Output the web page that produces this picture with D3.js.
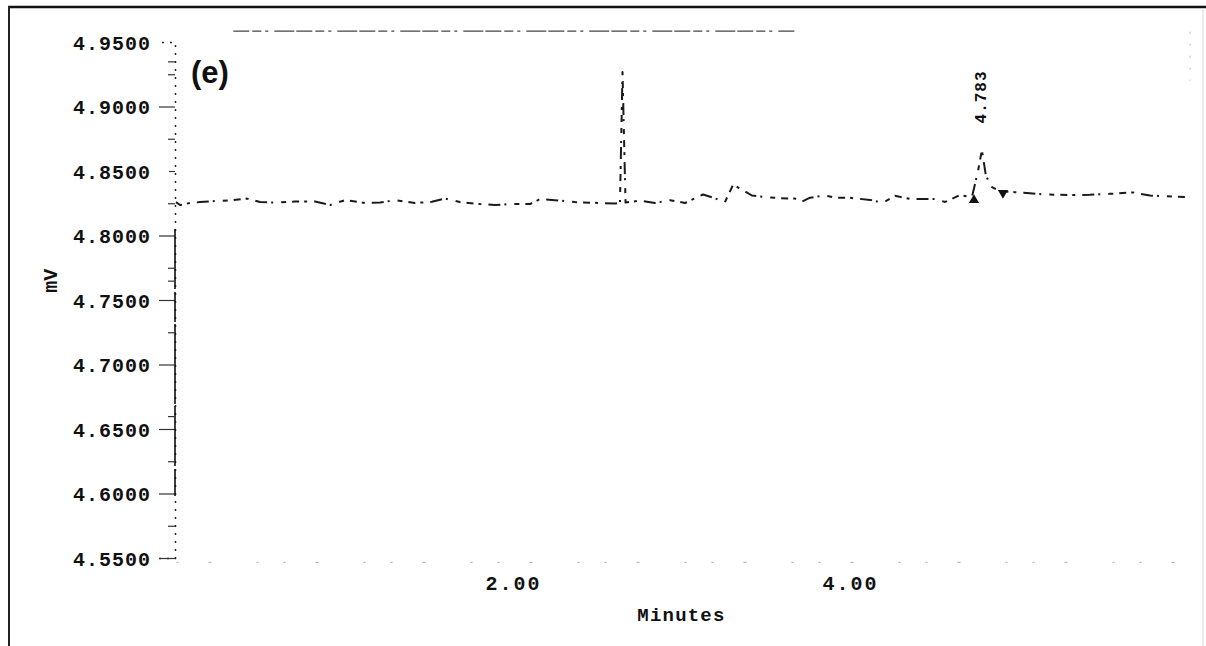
<!DOCTYPE html>
<html>
<head>
<meta charset="utf-8">
<script src="https://cdn.jsdelivr.net/npm/d3@7"></script>
<style>
  html, body { margin: 0; padding: 0; background: #fff; }
  svg { display: block; }
  .mono { font-family: "Liberation Mono", "DejaVu Sans Mono", monospace; font-weight: bold; fill: #111; }
</style>
</head>
<body>
<svg id="chart" width="1206" height="646"></svg>
<script>
// Detector trace (time in minutes, signal in mV)
const times = [0.000, 0.024, 0.083, 0.142, 0.231, 0.320, 0.421, 0.499, 0.588, 0.706,
  0.825, 0.914, 1.003, 1.122, 1.211, 1.300, 1.418, 1.519, 1.596, 1.685,
  1.804, 1.893, 1.982, 2.101, 2.160, 2.249, 2.368, 2.516, 2.605, 2.635,
  2.650, 2.668, 2.754, 2.843, 2.932, 3.021, 3.128, 3.199, 3.258, 3.306,
  3.359, 3.418, 3.496, 3.573, 3.674, 3.715, 3.763, 3.852, 3.911, 4.000,
  4.119, 4.196, 4.267, 4.356, 4.504, 4.564, 4.653, 4.724, 4.760, 4.783,
  4.807, 4.843, 4.890, 4.979, 5.068, 5.157, 5.306, 5.424, 5.543, 5.680,
  5.780, 5.929, 6.018];
const values = [4.8259, 4.8236, 4.8252, 4.8259, 4.8267, 4.8271, 4.8286, 4.8259, 4.8255, 4.8263,
  4.8263, 4.8236, 4.8274, 4.8252, 4.8255, 4.8274, 4.8252, 4.8261, 4.8286, 4.8259,
  4.8244, 4.8236, 4.8244, 4.8244, 4.8282, 4.8274, 4.8259, 4.8252, 4.8248, 4.8252,
  4.9267, 4.8255, 4.8271, 4.8252, 4.8274, 4.8252, 4.8318, 4.8288, 4.8259, 4.8392,
  4.8357, 4.8310, 4.8298, 4.8290, 4.8286, 4.8262, 4.8293, 4.8311, 4.8293, 4.8292,
  4.8276, 4.8254, 4.8308, 4.8284, 4.8283, 4.8260, 4.8313, 4.8298, 4.8500, 4.8663,
  4.8462, 4.8375, 4.8344, 4.8336, 4.8327, 4.8318, 4.8313, 4.8316, 4.8323, 4.8334,
  4.8310, 4.8302, 4.8298];

// Axis ticks
const yTicks = [4.55, 4.60, 4.65, 4.70, 4.75, 4.80, 4.85, 4.90, 4.95];
const yMinorTicks = [4.575, 4.625, 4.66, 4.725, 4.765, 4.775, 4.825, 4.875, 4.925, 4.935];
const xTicks = [2, 4];

// Integrated peak: retention time and baseline start/end markers
const peakTimes = [4.783];
const peakLabels = ["4.783"];
const peakTopValues = [4.8663];
const markerTimes = [4.736, 4.908];
const markerValues = [4.8274, 4.8330];
const markerKinds = ["up", "down"];

const svg = d3.select("#chart");

const x = d3.scaleLinear().domain([0, 6.03]).range([176, 1192]);
const y = d3.scaleLinear().domain([4.55, 4.95]).range([558, 42]);

// Outer frame (top and left heavy, right faint)
svg.append("line").attr("x1", 8).attr("x2", 1206).attr("y1", 7).attr("y2", 7)
  .attr("stroke", "#111").attr("stroke-width", 2.5);
svg.append("line").attr("x1", 9).attr("x2", 9).attr("y1", 6).attr("y2", 646)
  .attr("stroke", "#222").attr("stroke-width", 2);
svg.append("line").attr("x1", 1203).attr("x2", 1203).attr("y1", 8).attr("y2", 646)
  .attr("stroke", "#d8d8d8").attr("stroke-width", 1);

// Faint plot frame: top and right edges
svg.append("line").attr("x1", x(0.34)).attr("x2", x(3.67)).attr("y1", y(4.9585)).attr("y2", y(4.9585))
  .attr("stroke", "#444").attr("stroke-width", 1.2).attr("stroke-dasharray", "16,3,9,4,3,6,20,2");
svg.append("line").attr("x1", x(6.03) - 2).attr("x2", x(6.03) - 2).attr("y1", y(4.958)).attr("y2", y(4.92))
  .attr("stroke", "#bbb").attr("stroke-width", 1).attr("stroke-dasharray", "2,10");

// Y axis
const yAxis = svg.append("g").attr("transform", `translate(${x(0) - 1},0)`)
  .call(d3.axisLeft(y).tickValues(yTicks).tickFormat(d3.format(".4f")).tickSize(16).tickPadding(8));
yAxis.select(".domain").attr("stroke", "#222").attr("stroke-width", 1.5).attr("stroke-dasharray", "2,6");
yAxis.selectAll(".tick line").attr("stroke", "#333").attr("stroke-width", 1.2)
  .attr("stroke-dasharray", d => d === 4.95 ? "0,40" : (d === 4.85 ? "6,40" : null));
yAxis.selectAll(".tick text").attr("class", "mono").attr("font-size", 20)
  .attr("letter-spacing", 1).attr("dy", "0.36em");
// solid stretch of the axis line
svg.append("line").attr("x1", x(0) - 1).attr("x2", x(0) - 1).attr("y1", y(4.805)).attr("y2", y(4.598))
  .attr("stroke", "#111").attr("stroke-width", 1.6).attr("stroke-dasharray", "60,3,30,2,80,2");

const yMinor = svg.append("g").attr("transform", `translate(${x(0) - 1},0)`)
  .call(d3.axisLeft(y).tickValues(yMinorTicks).tickFormat("").tickSize(7));
yMinor.select(".domain").remove();
yMinor.selectAll(".tick line").attr("stroke", "#333").attr("stroke-width", 1.2);

// X axis
const xAxis = svg.append("g").attr("transform", `translate(0,${y(4.547)})`)
  .call(d3.axisBottom(x).tickValues(xTicks).tickFormat(d3.format(".2f")).tickSize(0).tickPadding(24));
xAxis.select(".domain").attr("stroke", "#aaa").attr("stroke-width", 1).attr("stroke-dasharray", "2,30,3,45,2,25");
xAxis.selectAll(".tick text").attr("class", "mono").attr("font-size", 20).attr("letter-spacing", 2)
  .attr("dy", "0.2em");

// Axis titles
svg.append("text").attr("class", "mono").attr("font-size", 19).attr("letter-spacing", 1.2)
  .attr("x", x(3.0)).attr("y", 621).attr("text-anchor", "middle").text("Minutes");
svg.append("text").attr("class", "mono").attr("font-size", 20)
  .attr("transform", `translate(57,${y(4.765)}) rotate(-90)`).attr("text-anchor", "middle").text("mV");

// Panel tag
svg.append("text").attr("x", 191).attr("y", 83)
  .attr("font-family", "'Liberation Sans', Arial, sans-serif").attr("font-weight", "bold")
  .attr("font-size", 31).attr("fill", "#111").text("(e)");

// Trace
const line = d3.line().x((d, i) => x(times[i])).y(d => y(d));
svg.append("path").datum(values).attr("d", line)
  .attr("fill", "none").attr("stroke", "#1a1a1a").attr("stroke-width", 2)
  .attr("stroke-linejoin", "round")
  .attr("stroke-dasharray", "7,5,3,7,12,4,2,8,5,6");

// Peak retention-time label
svg.selectAll(".peak-label").data(peakTimes).enter().append("text")
  .attr("class", "mono").attr("font-size", 16).attr("letter-spacing", 1)
  .attr("text-anchor", "middle")
  .attr("transform", (d, i) => `translate(${x(d) + 4},${y(peakTopValues[i]) - 53}) rotate(-90)`)
  .text((d, i) => peakLabels[i]);

// Baseline start / end markers
const triangle = d3.symbol().type(d3.symbolTriangle).size(45);
svg.selectAll(".marker").data(markerTimes).enter().append("path")
  .attr("d", triangle)
  .attr("fill", "#111")
  .attr("transform", (d, i) => `translate(${x(d)},${y(markerValues[i])}) rotate(${markerKinds[i] === "up" ? 0 : 180})`);
</script>
</body>
</html>
